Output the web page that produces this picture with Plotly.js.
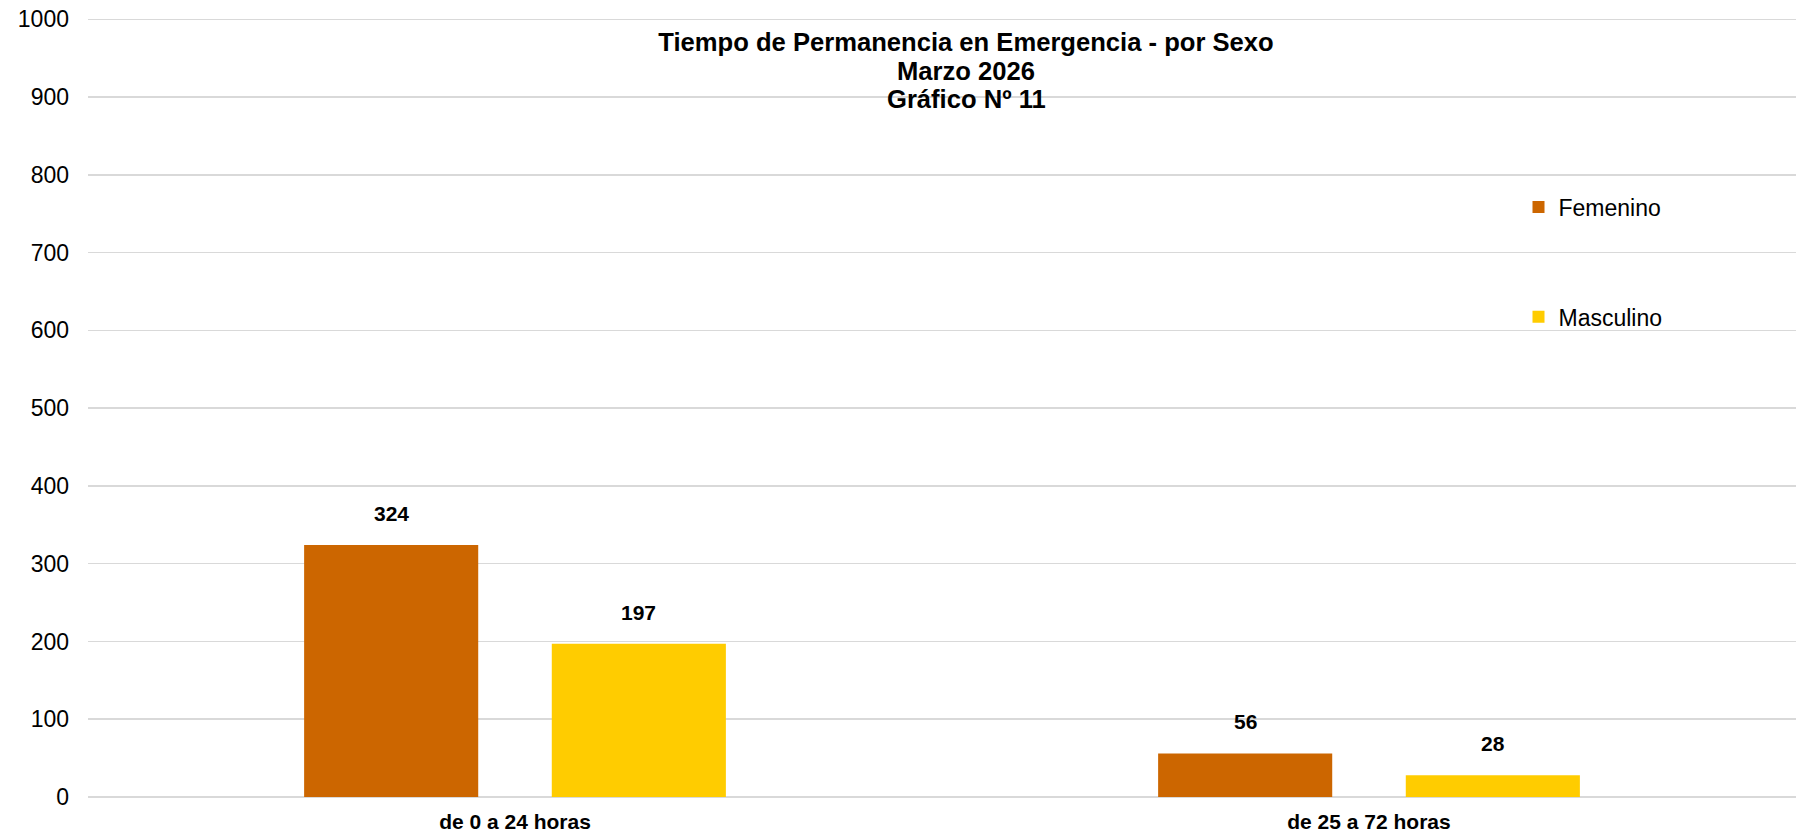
<!DOCTYPE html>
<html>
<head>
<meta charset="utf-8">
<script src="https://cdn.plot.ly/plotly-3.0.1.min.js"></script>
<style>
  html, body { margin: 0; padding: 0; background: #ffffff; }
  #chart { width: 1796px; height: 835px; }
</style>
</head>
<body>
<div id="chart"></div>
<script>
const categories = ['de 0 a 24 horas', 'de 25 a 72 horas'];
const femenino = [324, 56];
const masculino = [197, 28];
const seriesNames = ['Femenino', 'Masculino'];
const seriesColors = ['#CC6600', '#FFCC00'];
const yTickVals = [0, 100, 200, 300, 400, 500, 600, 700, 800, 900, 1000];
const titleLines = ['Tiempo de Permanencia en Emergencia - por Sexo', 'Marzo 2026', 'Gráfico Nº 11'];

const FONT = '"Liberation Sans", Arial, sans-serif';
const TOP = 17, BOTTOM = 38, H = 835;
const plotH = H - TOP - BOTTOM;
const pxToPaperY = py => (H - BOTTOM - py) / plotH;

const series = [femenino, masculino];
const traces = series.map((vals, i) => ({
  type: 'bar',
  name: seriesNames[i],
  x: categories,
  y: vals,
  marker: { color: seriesColors[i], line: { width: 0 } },
  legendgroup: 'g' + i,
  hoverinfo: 'skip'
}));

const slotPx = 247.5;
const annotations = [];
series.forEach((vals, i) => {
  vals.forEach((v, j) => {
    annotations.push({
      x: categories[j], y: v, xref: 'x', yref: 'y',
      text: '<b>' + v + '</b>',
      showarrow: false,
      yanchor: 'bottom',
      xanchor: 'center',
      xshift: (i === 0 ? -1 : 1) * slotPx / 2,
      yshift: 18,
      font: { family: FONT, size: 21, color: '#000000' }
    });
  });
});

// title lines 2 and 3 (line 1 is layout.title)
const titleCenterX = (966 - 88) / 1708;
const titleLineY = [42.5, 71, 99.5];
[1, 2].forEach(k => {
  annotations.push({
    xref: 'paper', yref: 'paper',
    x: titleCenterX, y: pxToPaperY(titleLineY[k]),
    xanchor: 'center', yanchor: 'middle',
    text: '<b>' + titleLines[k] + '</b>',
    showarrow: false,
    font: { family: FONT, size: 25.6, color: '#000000' }
  });
});

const layout = {
  width: 1796,
  height: 835,
  paper_bgcolor: '#ffffff',
  plot_bgcolor: '#ffffff',
  margin: { l: 88, r: 0, t: TOP, b: BOTTOM, pad: 0 },
  barmode: 'group',
  bargap: 0.42,
  bargroupgap: 0.297,
  title: {
    text: '<b>' + titleLines[0] + '</b>',
    font: { family: FONT, size: 25.6, color: '#000000' },
    xref: 'container', x: 966 / 1796, xanchor: 'center',
    yref: 'container', y: 1 - titleLineY[0] / 835, yanchor: 'middle'
  },
  xaxis: {
    type: 'category',
    showgrid: false,
    showline: false,
    zeroline: false,
    ticks: '',
    tickfont: { family: FONT, size: 21, color: '#000000', weight: 'bold' },
    ticklabelstandoff: 10
  },
  yaxis: {
    range: [0, 1003],
    tickvals: yTickVals,
    ticktext: yTickVals.map(String),
    showgrid: true,
    gridcolor: '#d9d9d9',
    gridwidth: 1.5,
    zeroline: true,
    zerolinecolor: '#d9d9d9',
    zerolinewidth: 1.5,
    showline: false,
    ticks: '',
    tickfont: { family: FONT, size: 23, color: '#000000' },
    ticklabelstandoff: 18
  },
  showlegend: true,
  legend: {
    x: (1518.5 - 88) / 1708, xanchor: 'left',
    y: pxToPaperY(185.5), yanchor: 'top',
    traceorder: 'grouped',
    tracegroupgap: 77,
    font: { family: FONT, size: 23, color: '#000000' },
    bgcolor: 'rgba(0,0,0,0)',
    borderwidth: 0
  },
  annotations: annotations
};

Plotly.newPlot('chart', traces, layout, { displayModeBar: false, staticPlot: true });
</script>
</body>
</html>
